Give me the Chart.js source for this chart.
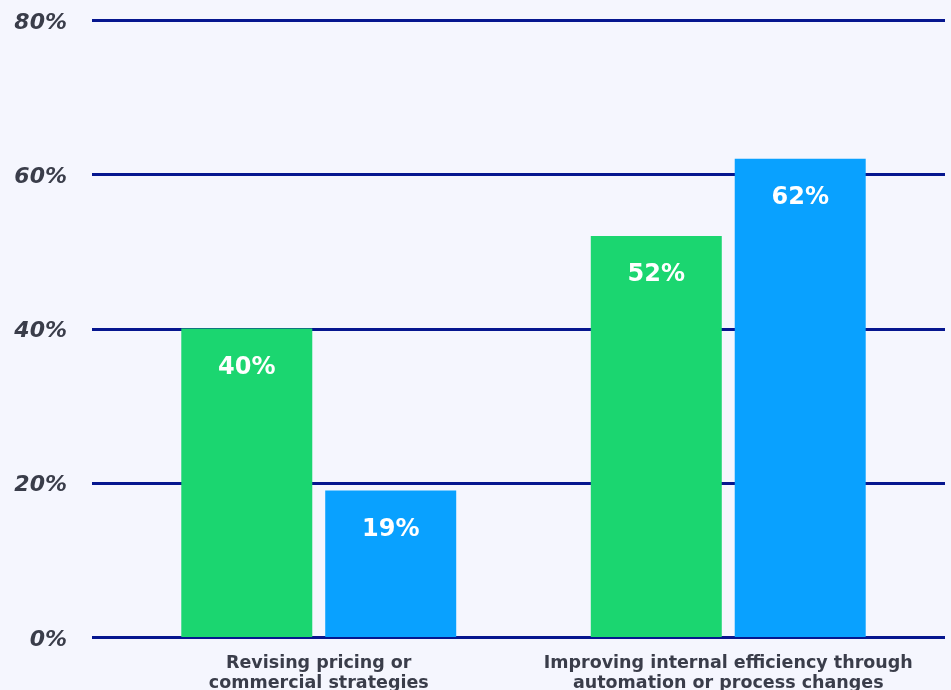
<!DOCTYPE html>
<html lang="en">
<head>
    <meta charset="UTF-8">
    <title>Pricing vs efficiency</title>
    <style>
        html, body {
            margin: 0;
            padding: 0;
            background-color: #f5f6fe;
        }
        canvas {
            display: block;
        }
    </style>
</head>
<body>
    <canvas id="barChart" width="951" height="690"></canvas>

    <script src="https://cdn.jsdelivr.net/npm/chart.js"></script>
    <script>
        const categories = [
            ['Revising pricing or', 'commercial strategies'],
            ['Improving internal efficiency through', 'automation or process changes']
        ];
        const greenValues = [40, 52];
        const blueValues = [19, 62];
        const yTicks = [0, 20, 40, 60, 80];

        // long navy gridlines, a bit wider than the plot area
        const gridPlugin = {
            id: 'wideGrid',
            beforeDatasetsDraw(chart) {
                const ctx = chart.ctx;
                const area = chart.chartArea;
                const y = chart.scales.y;
                ctx.save();
                ctx.strokeStyle = '#06168f';
                ctx.lineWidth = 3;
                yTicks.forEach(v => {
                    const py = Math.round(y.getPixelForValue(v)) + 0.5;
                    ctx.beginPath();
                    ctx.moveTo(area.left - 22, py);
                    ctx.lineTo(area.right + 12, py);
                    ctx.stroke();
                });
                ctx.restore();
            }
        };

        // white value labels inside the bars
        const valuePlugin = {
            id: 'valueLabels',
            afterDatasetsDraw(chart) {
                const ctx = chart.ctx;
                ctx.save();
                ctx.fillStyle = '#ffffff';
                ctx.font = 'bold 24px "DejaVu Sans", sans-serif';
                ctx.textAlign = 'center';
                ctx.textBaseline = 'middle';
                chart.data.datasets.forEach((ds, i) => {
                    chart.getDatasetMeta(i).data.forEach((bar, j) => {
                        ctx.fillText(ds.data[j] + '%', bar.x, bar.y + 39);
                    });
                });
                ctx.restore();
            }
        };

        new Chart(document.getElementById('barChart'), {
            type: 'bar',
            data: {
                labels: categories,
                datasets: [
                    {
                        label: 'Green',
                        data: greenValues,
                        backgroundColor: '#1bd670',
                        categoryPercentage: 0.703,
                        barPercentage: 0.91
                    },
                    {
                        label: 'Blue',
                        data: blueValues,
                        backgroundColor: '#09a1ff',
                        categoryPercentage: 0.703,
                        barPercentage: 0.91
                    }
                ]
            },
            options: {
                responsive: false,
                animation: false,
                layout: {
                    padding: { top: 20, right: 18, left: 0, bottom: 0 }
                },
                plugins: {
                    legend: { display: false },
                    title: { display: false },
                    tooltip: { enabled: false }
                },
                scales: {
                    x: {
                        grid: { display: false },
                        border: { display: false },
                        afterFit(axis) {
                            axis.height = 53;
                            axis.paddingLeft = 0;
                            axis.paddingRight = 0;
                        },
                        ticks: {
                            color: '#3a3d4a',
                            padding: 8,
                            maxRotation: 0,
                            autoSkip: false,
                            font: { family: '"DejaVu Sans", sans-serif', size: 17.5, weight: 'bold', lineHeight: 1.15 }
                        }
                    },
                    y: {
                        min: 0,
                        max: 80,
                        afterBuildTicks(axis) {
                            axis.ticks = yTicks.map(v => ({ value: v }));
                        },
                        afterFit(axis) {
                            axis.width = 114;
                            axis.paddingTop = 0;
                            axis.paddingBottom = 0;
                        },
                        grid: { display: false },
                        border: { display: false },
                        ticks: {
                            color: '#3a3d4a',
                            padding: 39,
                            labelOffset: 3,
                            callback: v => v + '%',
                            font: { family: '"DejaVu Sans", sans-serif', size: 22, weight: 'bold', style: 'italic' }
                        }
                    }
                }
            },
            plugins: [gridPlugin, valuePlugin]
        });
    </script>
</body>
</html>
